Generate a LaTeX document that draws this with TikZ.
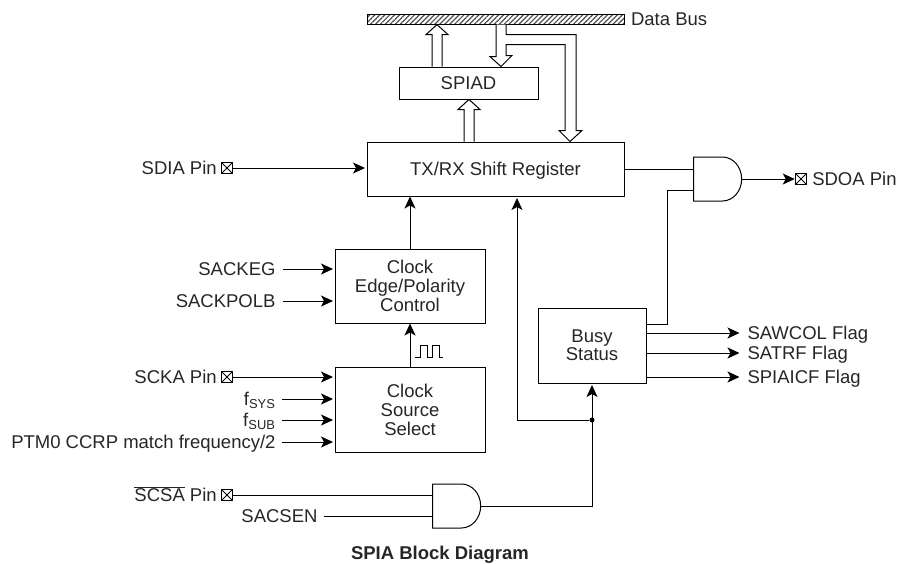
\documentclass[tikz,border=0pt]{standalone}
\usepackage{fontspec}
\setmainfont{Liberation Sans}
\usetikzlibrary{arrows.meta,calc,patterns.meta,positioning,shapes.gates.logic.US}
\tikzset{
    block/.style={rectangle, draw, align=center, inner sep=0pt},
    oneline/.style={text height=13pt, text depth=0pt},
    sigtext/.style={inner sep=0pt, oneline},
    pinbox/.style={rectangle, draw, minimum size=10.5pt, inner sep=0pt,
        path picture={\draw (path picture bounding box.north west) -- (path picture bounding box.south east)
            (path picture bounding box.north east) -- (path picture bounding box.south west);}},
    andgate/.style={and gate US, draw, logic gate inputs=nn, minimum width=49pt, minimum height=44pt, inner sep=0pt, xscale=.875, transform shape},
    wire/.style={line width=1pt},
    sig/.style={wire, -{Stealth[length=12pt,width=11pt,inset=3pt]}, shorten >=1.5pt},
    hollow/.style={line width=1pt, fill=white, line join=miter},
    junction/.style={circle, fill, minimum size=5pt, inner sep=0pt}
}
% wide open arrow, going up to the tip
\newcommand{\hollowup}[3]{%
    \coordinate (tip) at (#1,0 |- #3);
    \draw[hollow] (#1-5,0 |- #2) -- ($(tip)+(-5,10)$) -- ($(tip)+(-11,10)$) -- (tip)
        -- ($(tip)+(11,10)$) -- ($(tip)+(5,10)$) -- (#1+5,0 |- #2);
}
\begin{document}
\begin{tikzpicture}[x=1pt, y=-1pt, line width=1pt, font=\fontsize{18.5pt}{19pt}\selectfont, text=black!85]
    \useasboundingbox (0,0) rectangle (898,563);

    % Blocks
    \node[block, minimum width=257pt, minimum height=10pt, pattern={Lines[angle=45,distance=3.5pt,line width=1.2pt]}, pattern color=black!70] (bus) at (495.5,19) {};
    \node[block, oneline, minimum width=139pt, minimum height=32pt] (spiad) at (468.5,83) {SPIAD};
    \node[block, oneline, minimum width=257pt, minimum height=54pt] (shiftreg) at (495.5,169) {TX/RX Shift Register};
    \node[block, minimum width=150pt, minimum height=74pt] (edge) at (410,286) {Clock\\Edge/Polarity\\Control};
    \node[block, minimum width=150pt, minimum height=85pt] (source) at (410,409.5) {Clock\\Source\\Select};
    \node[block, minimum width=108pt, minimum height=75pt] (busy) at (592,345.5) {Busy\\[-1pt]Status};
    \node[andgate] (andout) at (716,179) {};
    \node[andgate] (andcs) at (455,506) {};
    \node[junction] (dot) at (busy.south |- 0,420) {};

    % Pins
    \node[pinbox] (sdiapin) at (227,168) {};
    \node[pinbox] (sckapin) at (227,377) {};
    \node[pinbox] (scsapin) at (227,495) {};
    \node[pinbox] (sdoapin) at (801,179) {};
    \node[sigtext, left=4pt of sdiapin] (sdia) {SDIA Pin};
    \node[sigtext, left=4pt of sckapin] (scka) {SCKA Pin};
    \node[sigtext, left=4pt of scsapin] (scsa) {$\overline{\mbox{SCSA}}$ Pin};
    \node[sigtext, right=5pt of sdoapin] (sdoa) {SDOA Pin};

    % Signal names
    \node[sigtext, anchor=east] (sackeg) at (276,269) {SACKEG};
    \node[sigtext, anchor=east] (sackpolb) at (276,301) {SACKPOLB};
    \node[sigtext, anchor=east] (fsys) at (276,399) {f\textsubscript{SYS}};
    \node[sigtext, anchor=east] (fsub) at (276,420) {f\textsubscript{SUB}};
    \node[sigtext, anchor=east] (ptm) at (276,442) {PTM0 CCRP match frequency/2};
    \node[sigtext, anchor=east] (sacsen) at (318,516) {SACSEN};
    \node[sigtext, anchor=west] (sawcol) at (747,333) {SAWCOL Flag};
    \node[sigtext, anchor=west] (satrf) at (747,353) {SATRF Flag};
    \node[sigtext, anchor=west] (spiaicf) at (747,377) {SPIAICF Flag};
    \node[sigtext, right=6pt of bus] (buslabel) {Data Bus};
    \node[sigtext, font=\fontsize{18.5pt}{19pt}\selectfont\bfseries] (title) at (440,553) {SPIA Block Diagram};

    % Bus arrows
    \hollowup{437}{spiad.north}{bus.south}
    \hollowup{469}{shiftreg.north}{spiad.south}
    \draw[hollow] (496,0 |- bus.south) -- ++(0,32) -- ++(-6,0) -- (501,0 |- spiad.north) -- ++(11,-11) -- ++(-6,0) -- ++(0,-11)
        -- ++(59,0) -- ++(0,86) -- ++(-6,0) -- (570,0 |- shiftreg.north) -- ++(12,-11) -- ++(-6,0) -- ++(0,-96) -- ++(-70,0) -- (506,0 |- bus.south);

    % Inputs
    \draw[sig] (sdiapin) -- (shiftreg.west |- sdiapin);
    \draw[sig] ([xshift=7pt]sackeg.east) -- (edge.west |- sackeg);
    \draw[sig] ([xshift=7pt]sackpolb.east) -- (edge.west |- sackpolb);
    \draw[sig] (sckapin) -- (source.west |- sckapin);
    \draw[sig] ([xshift=6pt]fsys.east) -- (source.west |- fsys);
    \draw[sig] ([xshift=6pt]fsub.east) -- (source.west |- fsub);
    \draw[sig] ([xshift=6pt]ptm.east) -- (source.west |- ptm);
    \draw[wire] (scsapin) -- (andcs.west |- scsapin);
    \draw[wire] ([xshift=6pt]sacsen.east) -- (andcs.west |- sacsen);

    % Clock path
    \draw[sig, shorten >=0pt] (source) -- (edge);
    \draw[sig, shorten >=0pt] (edge.north) -- (edge.north |- shiftreg.south);
    \draw[line width=.8pt] (415,357) -- (420,357) -- (420,345) -- (427,345) -- (427,357) -- (432,357) -- (432,345) -- (439,345) -- (439,357) -- (443,357);

    % Outputs
    \draw[wire] (shiftreg.east) -- (andout.west |- shiftreg.east);
    \draw[wire] ([yshift=21.5pt]busy.east) -- ++(21,0) |- ([yshift=-11pt]andout.west);
    \draw[sig, shorten >=.5pt] (andout.east) -- (sdoapin);
    \draw[sig] (busy.east |- sawcol) -- ([xshift=-6pt]sawcol.west);
    \draw[sig] (busy.east |- satrf) -- ([xshift=-6pt]satrf.west);
    \draw[sig] (busy.east |- spiaicf) -- ([xshift=-6pt]spiaicf.west);

    % Busy path
    \draw[sig] (andcs.east) -| (busy.south);
    \draw[sig] (dot) -| ([xshift=21.5pt]shiftreg.south);
\end{tikzpicture}
\end{document}
